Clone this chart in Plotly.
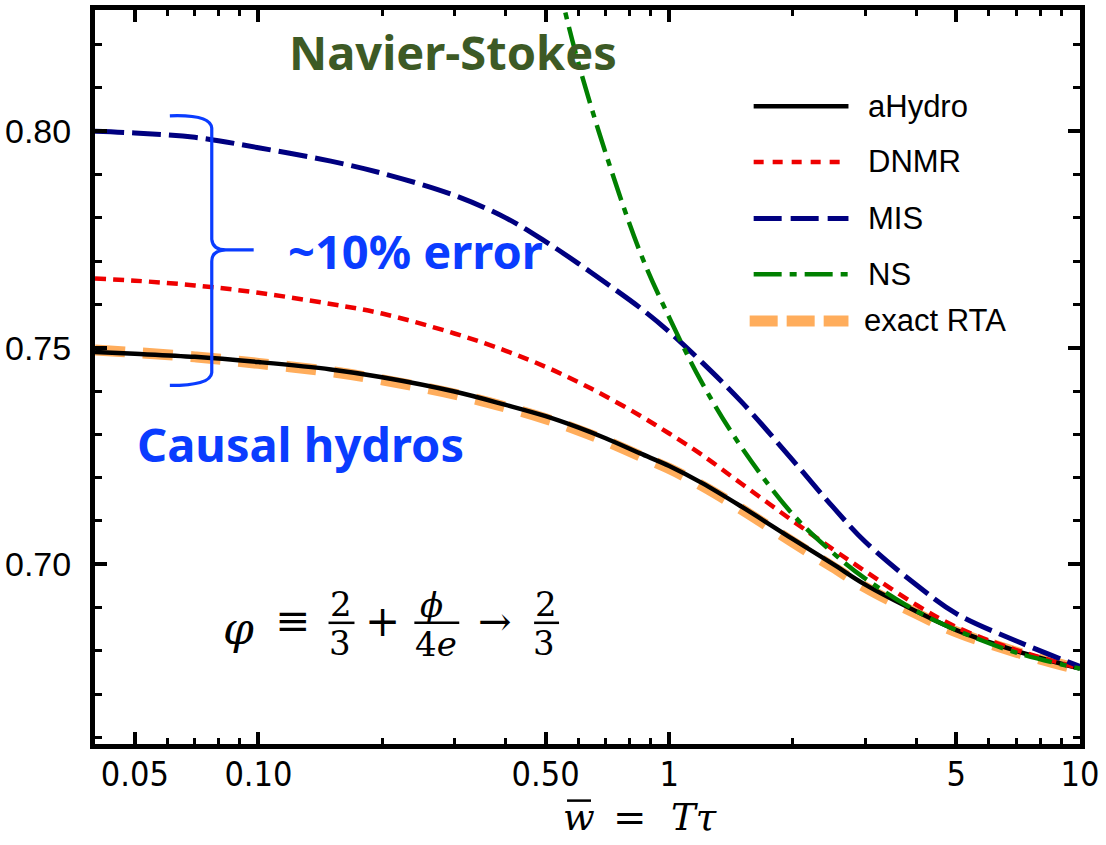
import math
import plotly.graph_objects as go

# ---------------- data ----------------
w_grid = [0.04, 0.05, 0.07, 0.1, 0.15, 0.2, 0.3, 0.4, 0.5, 0.6, 0.7, 0.85,
          1.0, 1.2, 1.5, 2.0, 2.5, 3.0, 4.0, 5.0, 7.0, 10.0]

ahydro = [0.7490, 0.7486, 0.7479, 0.7467, 0.7450, 0.7432, 0.7399, 0.7368,
          0.7342, 0.7316, 0.7291, 0.7256, 0.7227, 0.7188, 0.7133, 0.7058,
          0.7001, 0.6953, 0.6891, 0.6848, 0.6800, 0.6759]

exact_rta = [0.7495, 0.7489, 0.7479, 0.7464, 0.7445, 0.7426, 0.7393, 0.7363,
             0.7336, 0.7310, 0.7285, 0.7250, 0.7221, 0.7182, 0.7127, 0.7051,
             0.6994, 0.6947, 0.6886, 0.6844, 0.6797, 0.6757]

dnmr = [0.7660, 0.7655, 0.7644, 0.7627, 0.7601, 0.7579, 0.7533, 0.7493,
        0.7456, 0.7421, 0.7388, 0.7343, 0.7302, 0.7253, 0.7186, 0.7100,
        0.7035, 0.6984, 0.6906, 0.6855, 0.6802, 0.6760]

mis = [0.8000, 0.7996, 0.7986, 0.7962, 0.7931, 0.7903, 0.7852, 0.7800,
       0.7745, 0.7695, 0.7650, 0.7592, 0.7537, 0.7467, 0.7375, 0.7240,
       0.7133, 0.7052, 0.6952, 0.6886, 0.6823, 0.6764]

ns_w = [0.5, 0.55, 0.6, 0.7, 0.85, 1.0, 1.2, 1.5, 2.0, 2.5, 3.0, 4.0, 5.0, 7.0, 10.0]
ns = [0.847, 0.830, 0.816, 0.795, 0.772, 0.757, 0.742, 0.727, 0.7115,
      0.7027, 0.6967, 0.6892, 0.6848, 0.6796, 0.6759]

x_tickvals = [0.05, 0.1, 0.5, 1, 5, 10]
x_ticktext = ["0.05", "0.10", "0.50", "1", "5", "10"]
x_minor = [0.04, 0.06, 0.07, 0.08, 0.09, 0.2, 0.3, 0.4, 0.6, 0.7, 0.8, 0.9,
           2, 3, 4, 6, 7, 8, 9]
y_tickvals = [0.70, 0.75, 0.80]
y_ticktext = ["0.70", "0.75", "0.80"]
y_minor = [0.66, 0.67, 0.68, 0.69, 0.71, 0.72, 0.73, 0.74, 0.76, 0.77, 0.78,
           0.79, 0.81, 0.82]

legend_names = ["aHydro", "DNMR", "MIS", "NS", "exact RTA"]

# ---------------- styles ----------------
C_BLACK = "#000000"
C_RED = "#ee0000"
C_NAVY = "#000080"
C_GREEN = "#008000"
C_ORANGE = "#ffad5c"
C_BLUE = "#0a3cff"
C_OLIVE = "#3d5a25"

W_PX, H_PX = 1106, 845
L, R, T, B = 93, 1080, 5, 744

def fx(p):
    return (p - L) / (R - L)

def fy(p):
    return (B - p) / (B - T)

fig = go.Figure()
fig.add_trace(go.Scatter(x=w_grid, y=exact_rta, mode="lines", name="exact RTA",
                         line=dict(color=C_ORANGE, width=11, dash="30px,18px", shape="spline"),
                         showlegend=False))
fig.add_trace(go.Scatter(x=w_grid, y=ahydro, mode="lines", name="aHydro",
                         line=dict(color=C_BLACK, width=4.5, shape="spline"),
                         showlegend=False))
fig.add_trace(go.Scatter(x=w_grid, y=dnmr, mode="lines", name="DNMR",
                         line=dict(color=C_RED, width=4.5, dash="11px,7px", shape="spline"),
                         showlegend=False))
fig.add_trace(go.Scatter(x=w_grid, y=mis, mode="lines", name="MIS",
                         line=dict(color=C_NAVY, width=5, dash="29px,8px", shape="spline"),
                         showlegend=False))
fig.add_trace(go.Scatter(x=ns_w, y=ns, mode="lines", name="NS",
                         line=dict(color=C_GREEN, width=4.5, dash="28px,8px,7px,8px", shape="spline"),
                         showlegend=False))

shapes = []
annotations = []

def note(x, y, text, size, family, color="black", xanchor="center"):
    annotations.append(dict(xref="paper", yref="paper", x=fx(x), y=fy(y), text=text,
                            showarrow=False, xanchor=xanchor, yanchor="middle",
                            font=dict(family=family, size=size, color=color)))

# ---------------- manual legend ----------------
leg_rows = [102, 158, 215, 271, 318]
leg_styles = [
    dict(color=C_BLACK, width=4.5, dash="solid"),
    dict(color=C_RED, width=4.5, dash="10px,9px"),
    dict(color=C_NAVY, width=5, dash="28px,9px"),
    dict(color=C_GREEN, width=4.5, dash="28px,8px,7px,8px"),
    dict(color=C_ORANGE, width=11, dash="28px,9px"),
]
sans = "Liberation Sans, Arial, sans-serif"
for name, yy, st in zip(legend_names, leg_rows, leg_styles):
    x0 = 749 if name == "exact RTA" else 753
    shapes.append(dict(type="line", xref="paper", yref="paper",
                       x0=fx(x0), x1=fx(848), y0=fy(yy), y1=fy(yy), line=st))
    note(866 if name != "exact RTA" else 862, yy, name, 31, sans, xanchor="left")

# ---------------- brace ----------------
def P(x, y):
    return f"{fx(x):.5f},{fy(y):.5f}"

brace = ("M " + P(168, 111.5) + " Q " + P(209, 110) + " " + P(210, 124) +
         " L " + P(210, 236) + " Q " + P(211, 246.5) + " " + P(224, 246.5) +
         " L " + P(252, 246.5) +
         " M " + P(224, 246.5) + " Q " + P(210, 247) + " " + P(210, 258) +
         " L " + P(210, 370) + " Q " + P(209, 383) + " " + P(168, 383))
shapes.append(dict(type="path", xref="paper", yref="paper", path=brace,
                   line=dict(color=C_BLUE, width=3.2)))

# ---------------- text labels ----------------
bold_font = "Noto Sans, Roboto, sans-serif"
note(452, 47, "<b>Navier-Stokes</b>", 47, bold_font, C_OLIVE)
note(414, 248, "<b>~10% error</b>", 47, bold_font, C_BLUE)
note(299, 442, "<b>Causal hydros</b>", 47, bold_font, C_BLUE)

# ---------------- formula ----------------
serif = "DejaVu Serif, Liberation Serif, serif"

def bar(x0, x1, y, w=2.5):
    shapes.append(dict(type="line", xref="paper", yref="paper", x0=fx(x0), x1=fx(x1),
                       y0=fy(y), y1=fy(y), line=dict(color="black", width=w)))

note(237, 628, "<i>φ</i>", 44, serif)
note(291, 620, "≡", 42, serif)
note(340, 603, "2", 34, serif)
bar(327, 353, 622)
note(338, 642, "3", 34, serif)
note(381, 621, "+", 42, serif)
note(430, 604, "<i>ϕ</i>", 34, serif)
bar(413, 458, 622)
note(435, 643, "4<i>e</i>", 34, serif)
note(494, 620, "→", 40, serif)
note(545, 603, "2", 34, serif)
bar(533, 558, 622)
note(543, 642, "3", 34, serif)

# axis title (w with overline = T tau)
note(578, 818, "<i>w</i>", 37, serif)
bar(566, 590, 801, 2.5)
note(629, 818, "=", 40, serif)
note(693, 818, "<i>Tτ</i>", 37, serif)

fig.update_layout(
    width=W_PX, height=H_PX,
    margin=dict(l=L, r=W_PX - R, t=T, b=H_PX - B),
    paper_bgcolor="white", plot_bgcolor="white",
    shapes=shapes, annotations=annotations, showlegend=False,
)
fig.update_xaxes(
    type="log", range=[math.log10(0.04), 1.0],
    tickvals=x_tickvals, ticktext=x_ticktext,
    ticks="inside", ticklen=12, tickwidth=3.5, tickcolor="black",
    showline=True, linewidth=5, linecolor="black", mirror="ticks",
    showgrid=False, zeroline=False, ticklabelstandoff=-4,
    tickfont=dict(family="Liberation Sans Narrow, DejaVu Sans Condensed, Arial Narrow, sans-serif",
                  size=34, color="black"),
    minor=dict(tickvals=x_minor, ticks="inside", ticklen=6, tickwidth=3,
               tickcolor="black", showgrid=False),
)
fig.update_yaxes(
    range=[0.6585, 0.828],
    tickvals=y_tickvals, ticktext=y_ticktext,
    ticks="inside", ticklen=12, tickwidth=3.5, tickcolor="black",
    showline=True, linewidth=5, linecolor="black", mirror="ticks",
    showgrid=False, zeroline=False, ticklabelstandoff=12,
    tickfont=dict(family=sans, size=34, color="black"),
    minor=dict(tickvals=y_minor, ticks="inside", ticklen=7, tickwidth=3,
               tickcolor="black", showgrid=False),
)

fig.write_html("out.html")
